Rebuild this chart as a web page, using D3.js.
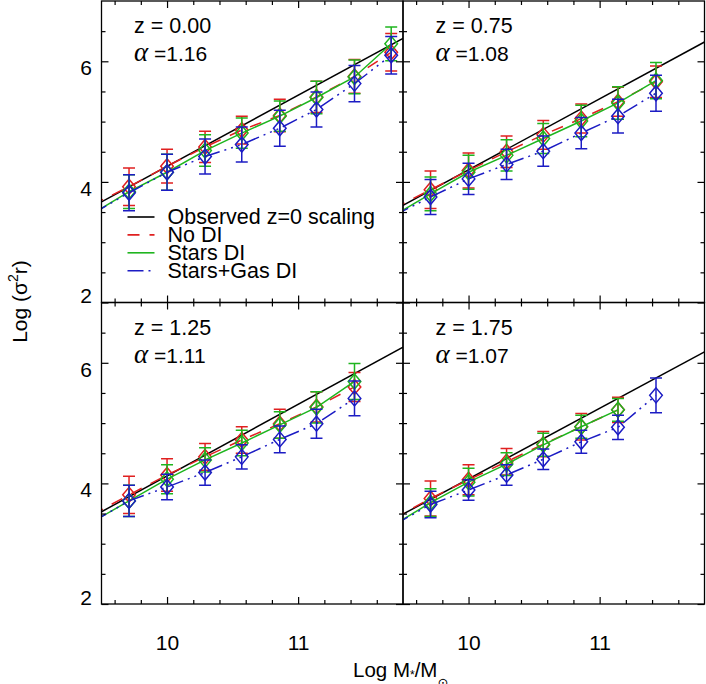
<html>
  <head>
    <meta charset="utf-8">
    <title>Log (sigma^2 r) vs stellar mass</title>
    <style>
      body { margin: 0; background: #fff; }
      text { font-family: "Liberation Sans", Arial, sans-serif; fill: #000; }
    </style>
  </head>

  <body>
    <div id="container"></div>
  </body>

  <script src="https://cdn.jsdelivr.net/npm/d3@7"></script>

  <script>
  // bin centres in Log M*/Msun (first bin sits just left of the plotted range)
  var logMass = [9.43, 9.71, 10.00, 10.29, 10.57, 10.86, 11.14, 11.43, 11.71];

  var redshifts = ["0.00", "0.75", "1.25", "1.75"];
  var alphas = ["1.16", "1.08", "1.11", "1.07"];

  // observed z=0 scaling, value at the left (9.5) and right (11.8) edge of each panel
  var obsLeft = [3.67, 3.61, 3.53, 3.49];
  var obsRight = [6.38, 6.32, 6.26, 6.18];

  var noDI = [
    [3.62, 3.92, 4.26, 4.58, 4.86, 5.10, 5.41, 5.75, 6.15],
    [3.56, 3.87, 4.19, 4.50, 4.78, 5.05, 5.33, 5.66],
    [3.48, 3.81, 4.14, 4.44, 4.72, 4.99, 5.27, 5.60],
    [3.42, 3.75, 4.06, 4.36, 4.65, 4.94, 5.22]
  ];
  var noDIErr = [
    [0.30, 0.31, 0.28, 0.26, 0.23, 0.27, 0.26, 0.28, 0.31],
    [0.30, 0.31, 0.29, 0.26, 0.24, 0.24, 0.24, 0.26],
    [0.30, 0.31, 0.27, 0.22, 0.22, 0.24, 0.25, 0.24],
    [0.30, 0.29, 0.25, 0.22, 0.21, 0.22, 0.21]
  ];

  var starsDI = [
    [3.47, 3.84, 4.16, 4.52, 4.81, 5.09, 5.40, 5.74, 6.29],
    [3.44, 3.80, 4.16, 4.44, 4.72, 5.01, 5.31, 5.68],
    [3.36, 3.71, 4.07, 4.39, 4.67, 4.97, 5.26, 5.69],
    [3.31, 3.68, 4.02, 4.32, 4.64, 4.94, 5.22]
  ];
  var starsDIErr = [
    [0.30, 0.28, 0.30, 0.26, 0.25, 0.25, 0.27, 0.28, 0.28],
    [0.30, 0.28, 0.28, 0.26, 0.25, 0.26, 0.27, 0.30],
    [0.30, 0.26, 0.24, 0.20, 0.21, 0.22, 0.26, 0.30],
    [0.30, 0.23, 0.23, 0.19, 0.19, 0.19, 0.19]
  ];

  var gasDI = [
    [3.47, 3.82, 4.16, 4.42, 4.62, 4.89, 5.20, 5.63, 6.10],
    [3.44, 3.75, 4.05, 4.29, 4.51, 4.81, 5.09, 5.47],
    [3.36, 3.71, 3.94, 4.18, 4.44, 4.73, 4.99, 5.41],
    [3.31, 3.65, 3.89, 4.14, 4.40, 4.69, 4.93, 5.46]
  ];
  var gasDIErr = [
    [0.30, 0.30, 0.30, 0.29, 0.29, 0.30, 0.29, 0.30, 0.31],
    [0.30, 0.29, 0.26, 0.25, 0.25, 0.26, 0.28, 0.30],
    [0.30, 0.26, 0.21, 0.21, 0.20, 0.22, 0.24, 0.29],
    [0.30, 0.22, 0.17, 0.17, 0.17, 0.19, 0.20, 0.29]
  ];

  var xMajor = [10, 11];
  var xMinor = [9.6, 9.8, 10.2, 10.4, 10.6, 10.8, 11.2, 11.4, 11.6];
  var yMajor = [2, 4, 6];
  var yMinor = [2.5, 3, 3.5, 4.5, 5, 5.5, 6.5];

  var legendNames = ["Observed z=0 scaling", "No DI", "Stars DI", "Stars+Gas DI"];

  function main() {
    var width = 706, height = 684;
    var left = 101.5, top = 1;
    var pw = 301.5, ph = 301.5;

    var series = [
      { vals: noDI, errs: noDIErr, color: "#e02020", dash: "12,10" },
      { vals: starsDI, errs: starsDIErr, color: "#1fb51f", dash: null },
      { vals: gasDI, errs: gasDIErr, color: "#1c1cc4", dash: "16,5,2,5,2,5,2,5" }
    ];

    var svg = d3.select("#container").append("svg")
      .attr("width", width)
      .attr("height", height)
      .style("display", "block");

    svg.append("rect").attr("width", width).attr("height", height).attr("fill", "#fff");

    var x = d3.scaleLinear().domain([9.5, 11.8]).range([0, pw]);
    var y = d3.scaleLinear().domain([2, 7]).range([ph, 0]);

    var line = d3.line()
      .x(function(d) { return x(d[0]); })
      .y(function(d) { return y(d[1]); });

    function diamond(cx, cy) {
      var hw = 6.3, hh = 7.5;
      return "M" + cx + "," + (cy - hh) + "L" + (cx + hw) + "," + cy +
        "L" + cx + "," + (cy + hh) + "L" + (cx - hw) + "," + cy + "Z";
    }

    redshifts.forEach(function(z, p) {
      var col = p % 2, row = Math.floor(p / 2);
      var g = svg.append("g")
        .attr("transform", "translate(" + (left + col * pw) + "," + (top + row * ph) + ")");

      g.append("clipPath").attr("id", "clip" + p)
        .append("rect").attr("width", pw).attr("height", ph);

      var plot = g.append("g").attr("clip-path", "url(#clip" + p + ")");

      // observed relation
      plot.append("path")
        .attr("d", line([[9.5, obsLeft[p]], [11.8, obsRight[p]]]))
        .attr("fill", "none")
        .attr("stroke", "#000")
        .attr("stroke-width", 1.5);

      series.forEach(function(s) {
        var pts = s.vals[p].map(function(v, i) { return [logMass[i], v, s.errs[p][i]]; });

        plot.append("path")
          .attr("d", line(pts))
          .attr("fill", "none")
          .attr("stroke", s.color)
          .attr("stroke-width", 1.5)
          .attr("stroke-dasharray", s.dash);

        var eb = plot.append("g")
          .attr("stroke", s.color)
          .attr("stroke-width", 1.5)
          .attr("fill", "none");

        eb.selectAll(".bar").data(pts).enter().append("path")
          .attr("d", function(d) {
            var cx = x(d[0]), y0 = y(d[1] - d[2]), y1 = y(d[1] + d[2]);
            return "M" + cx + "," + y0 + "V" + y1 +
              "M" + (cx - 6) + "," + y0 + "H" + (cx + 6) +
              "M" + (cx - 6) + "," + y1 + "H" + (cx + 6);
          });

        eb.selectAll(".mark").data(pts).enter().append("path")
          .attr("d", function(d) { return diamond(x(d[0]), y(d[1])); });
      });

      // axes, ticks pointing inward on all four sides
      function styleAxis(sel) {
        sel.select(".domain").remove();
        sel.selectAll("line").attr("stroke", "#000").attr("stroke-width", 1.2);
        sel.selectAll("text").style("font-size", "21px").attr("fill", "#000");
      }

      g.append("g").attr("transform", "translate(0," + ph + ")")
        .call(d3.axisBottom(x).tickValues(xMajor).tickSizeInner(-7).tickSizeOuter(0)
          .tickPadding(31).tickFormat(row === 1 ? d3.format("d") : ""))
        .call(styleAxis);
      g.append("g").attr("transform", "translate(0," + ph + ")")
        .call(d3.axisBottom(x).tickValues(xMinor).tickSizeInner(-4).tickSizeOuter(0).tickFormat(""))
        .call(styleAxis);
      g.append("g")
        .call(d3.axisTop(x).tickValues(xMajor).tickSizeInner(-7).tickSizeOuter(0).tickFormat(""))
        .call(styleAxis);
      g.append("g")
        .call(d3.axisTop(x).tickValues(xMinor).tickSizeInner(-4).tickSizeOuter(0).tickFormat(""))
        .call(styleAxis);

      var leftAx = g.append("g")
        .call(d3.axisLeft(y).tickValues(yMajor).tickSizeInner(-7).tickSizeOuter(0)
          .tickPadding(9.5).tickFormat(col === 0 ? d3.format("d") : ""))
        .call(styleAxis);
      leftAx.selectAll("text").attr("dy", function(d) { return d === 2 ? "0em" : "0.64em"; });
      g.append("g")
        .call(d3.axisLeft(y).tickValues(yMinor).tickSizeInner(-4).tickSizeOuter(0).tickFormat(""))
        .call(styleAxis);
      g.append("g").attr("transform", "translate(" + pw + ",0)")
        .call(d3.axisRight(y).tickValues(yMajor).tickSizeInner(-7).tickSizeOuter(0).tickFormat(""))
        .call(styleAxis);
      g.append("g").attr("transform", "translate(" + pw + ",0)")
        .call(d3.axisRight(y).tickValues(yMinor).tickSizeInner(-4).tickSizeOuter(0).tickFormat(""))
        .call(styleAxis);

      g.append("rect")
        .attr("width", pw).attr("height", ph)
        .attr("fill", "none").attr("stroke", "#000").attr("stroke-width", 1.3);

      // panel labels
      g.append("text").attr("x", 32.5).attr("y", 32)
        .style("font-size", "21.5px")
        .text("z = " + z);
      var at = g.append("text").attr("x", 32.5).attr("y", 60).style("font-size", "21px");
      at.append("tspan")
        .style("font-family", "'Liberation Serif', 'DejaVu Serif', serif")
        .style("font-style", "italic")
        .style("font-size", "27px")
        .text("\u03b1");
      at.append("tspan").text(" =" + alphas[p]);

      if (p === 0) {
        var styles = [{ color: "#000", dash: null }].concat(series);
        var leg = g.append("g").attr("transform", "translate(0,223)");
        legendNames.forEach(function(name, i) {
          var ly = i * 17.9;
          leg.append("line")
            .attr("x1", 26).attr("x2", 53)
            .attr("y1", ly - 7).attr("y2", ly - 7)
            .attr("stroke", styles[i].color)
            .attr("stroke-width", 1.6)
            .attr("stroke-dasharray", styles[i].dash);
          leg.append("text").attr("x", 66).attr("y", ly)
            .style("font-size", "21.5px")
            .text(name);
        });
      }
    });

    // axis titles
    var yt = svg.append("text")
      .attr("transform", "translate(27,301.5) rotate(-90)")
      .attr("text-anchor", "middle")
      .style("font-size", "21px");
    yt.append("tspan").text("Log (\u03c3");
    yt.append("tspan").attr("dy", -9).style("font-size", "14px").text("2");
    yt.append("tspan").attr("dy", 9).text("r)");

    var xt = svg.append("text")
      .attr("x", 353).attr("y", 676.7)
      .style("font-size", "20.5px");
    xt.append("tspan").text("Log M");
    xt.append("tspan").attr("dy", 2).style("font-size", "12px").text("*");
    xt.append("tspan").attr("dy", -2).text("/M");
    xt.append("tspan").attr("dy", 10)
      .style("font-family", "'DejaVu Sans', sans-serif")
      .style("font-size", "13px").text("\u2299");
  }

  window.onload = main;
  </script>
</html>
